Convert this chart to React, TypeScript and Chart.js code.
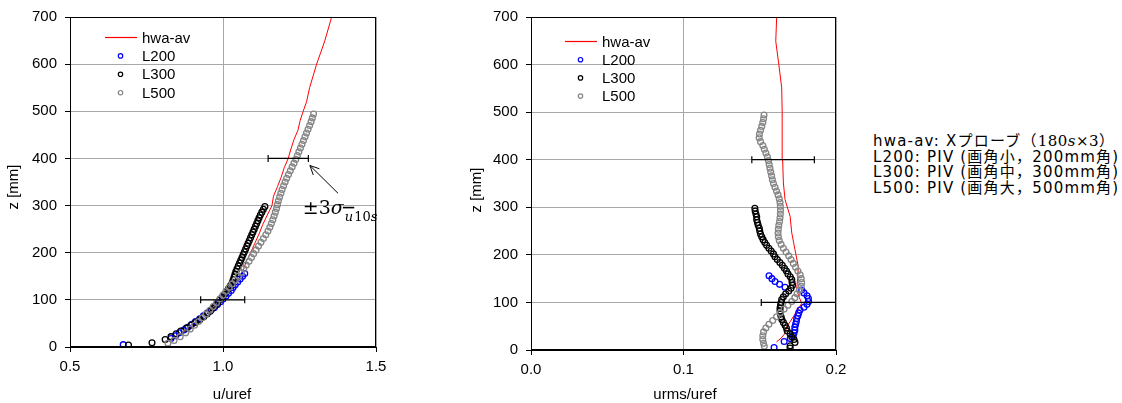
import React, { useEffect, useRef } from "react";
import { Chart, registerables } from "chart.js";
Chart.register(...registerables);

// ---------- data ----------
const SERIES = ["hwa-av", "L200", "L300", "L500"];
const zTicks = [0, 100, 200, 300, 400, 500, 600, 700];
const uTicks = [0.5, 1.0, 1.5];
const rmsTicks = [0.0, 0.1, 0.2];

// hot-wire average (left: u/uref)
const hwaUZ = [11, 20, 30, 40, 50, 60, 70, 80, 90, 100, 120, 140, 160, 180, 200, 220, 240, 260, 280, 300, 320, 340, 360, 380, 400, 420, 440, 460, 480, 500, 520, 550, 600, 650, 700];
const hwaU = [0.814, 0.84, 0.865, 0.89, 0.91, 0.93, 0.948, 0.965, 0.982, 0.998, 1.025, 1.048, 1.065, 1.075, 1.09, 1.104, 1.118, 1.13, 1.145, 1.16, 1.165, 1.178, 1.19, 1.2, 1.213, 1.222, 1.232, 1.245, 1.252, 1.262, 1.273, 1.283, 1.306, 1.333, 1.355];
// hot-wire average (right: urms/uref)
const hwaRmsZ = [17, 25, 35, 49, 60, 70, 85, 98, 110, 126, 150, 175, 211, 246, 281, 316, 351, 400, 456, 500, 551, 600, 649, 700];
const hwaRms = [0.161, 0.164, 0.1666, 0.1677, 0.17, 0.172, 0.175, 0.1775, 0.176, 0.1742, 0.1748, 0.1753, 0.1731, 0.171, 0.1699, 0.1666, 0.1655, 0.165, 0.1648, 0.1646, 0.1644, 0.1625, 0.1605, 0.1611];

const l200Z = [5, 18, 24, 30, 36, 42, 48, 54, 60, 66, 72, 78, 84, 90, 96, 102, 108, 114, 120, 126, 132, 138, 144, 150, 156];
const l200U = [0.674, 0.83, 0.845, 0.857, 0.872, 0.885, 0.898, 0.91, 0.924, 0.936, 0.948, 0.96, 0.972, 0.982, 0.992, 1.0, 1.01, 1.018, 1.027, 1.033, 1.04, 1.048, 1.056, 1.064, 1.071];
const l200Rms = [0.1594, 0.166, 0.17, 0.172, 0.1725, 0.173, 0.173, 0.1735, 0.174, 0.1742, 0.175, 0.1755, 0.1764, 0.179, 0.181, 0.182, 0.1819, 0.181, 0.179, 0.1775, 0.1666, 0.163, 0.16, 0.158, 0.1561];

const l300Z = [4, 9, 16, 22, 28, 34, 40, 46, 52, 58, 64, 70, 76, 82, 88, 94, 100, 106, 112, 118, 124, 130, 136, 142, 148, 154, 160, 166, 172, 178, 184, 190, 196, 202, 208, 214, 220, 226, 232, 238, 244, 250, 256, 262, 268, 274, 280, 286, 292, 298];
const l300U = [0.691, 0.768, 0.811, 0.83, 0.847, 0.862, 0.88, 0.895, 0.91, 0.924, 0.937, 0.948, 0.958, 0.967, 0.975, 0.983, 0.99, 0.998, 1.005, 1.011, 1.018, 1.024, 1.03, 1.033, 1.036, 1.039, 1.042, 1.046, 1.05, 1.054, 1.058, 1.062, 1.066, 1.07, 1.074, 1.078, 1.082, 1.086, 1.09, 1.094, 1.098, 1.102, 1.106, 1.11, 1.114, 1.118, 1.122, 1.127, 1.132, 1.137];
const l300Rms = [0.1699, 0.1699, 0.1731, 0.1725, 0.171, 0.1699, 0.168, 0.1675, 0.1666, 0.1655, 0.1645, 0.164, 0.1635, 0.1633, 0.1633, 0.1636, 0.164, 0.1644, 0.1655, 0.167, 0.169, 0.1705, 0.1715, 0.1712, 0.171, 0.17, 0.1685, 0.1675, 0.1662, 0.1648, 0.1632, 0.1615, 0.16, 0.159, 0.1575, 0.156, 0.1545, 0.1533, 0.1522, 0.1513, 0.1505, 0.15, 0.1497, 0.149, 0.1485, 0.148, 0.148, 0.1475, 0.147, 0.1468];

const l500Z = [8, 14, 22, 30, 38, 46, 54, 62, 70, 78, 86, 94, 102, 110, 118, 126, 134, 142, 150, 158, 166, 174, 182, 190, 198, 206, 214, 222, 230, 238, 246, 254, 262, 270, 278, 286, 294, 302, 310, 318, 326, 334, 342, 350, 358, 366, 374, 382, 390, 398, 406, 414, 422, 430, 438, 446, 454, 462, 470, 478, 486, 494];
const l500U = [0.82, 0.84, 0.86, 0.878, 0.893, 0.907, 0.92, 0.933, 0.945, 0.957, 0.968, 0.979, 0.99, 1.0, 1.01, 1.02, 1.03, 1.04, 1.05, 1.06, 1.068, 1.076, 1.085, 1.093, 1.1, 1.108, 1.116, 1.124, 1.132, 1.14, 1.147, 1.153, 1.158, 1.163, 1.167, 1.171, 1.175, 1.178, 1.181, 1.185, 1.189, 1.193, 1.198, 1.203, 1.208, 1.214, 1.22, 1.226, 1.232, 1.238, 1.243, 1.248, 1.253, 1.258, 1.263, 1.268, 1.273, 1.278, 1.283, 1.288, 1.292, 1.296];
const l500Rms = [0.153, 0.1525, 0.152, 0.152, 0.1525, 0.154, 0.156, 0.1585, 0.161, 0.1635, 0.166, 0.1685, 0.171, 0.173, 0.1745, 0.176, 0.1772, 0.1775, 0.1772, 0.1765, 0.175, 0.1735, 0.172, 0.1705, 0.169, 0.1672, 0.1655, 0.164, 0.1628, 0.1622, 0.162, 0.1622, 0.1625, 0.163, 0.1633, 0.1635, 0.1636, 0.1635, 0.1633, 0.1628, 0.162, 0.161, 0.16, 0.159, 0.1583, 0.1578, 0.1572, 0.1567, 0.1562, 0.1557, 0.155, 0.154, 0.153, 0.152, 0.1505, 0.1496, 0.1498, 0.1505, 0.1513, 0.152, 0.1525, 0.1528];

// ±3σ error bars
const errZ = [100, 400];
const uErrLo = [0.927, 1.1475];
const uErrHi = [1.071, 1.279];
const rmsErrLo = [0.151, 0.1448];
const rmsErrHi = [0.205, 0.1858];

// annotation arrow (data coords, left chart)
const arrowTip = { u: 1.284, z: 385 };
const arrowTail = { u: 1.376, z: 326 };
const sigmaLabelPos = { u: 1.261, z: 283 };

const noteLines = [
  "L200: PIV (画角小，200mm角)",
  "L300: PIV (画角中，300mm角)",
  "L500: PIV (画角大，500mm角)",
];

// ---------- styles ----------
const RED = "#ff0000";
const BLUE = "#0000ff";
const BLACK = "#000000";
const GRAY = "#858585";
const GRID = "#a8a8a8";
const FONT = '"Liberation Sans", Arial, sans-serif';
const SERIES_COLORS = [RED, BLUE, BLACK, GRAY];

const pairs = (xs: number[], zs: number[]) => xs.map((x, i) => ({ x, y: zs[i] }));

function pointSet(label: string, xs: number[], zs: number[], color: string, order: number) {
  return {
    label,
    data: pairs(xs, zs),
    showLine: false,
    pointRadius: 2.9,
    pointBorderWidth: 1.3,
    pointBorderColor: color,
    pointBackgroundColor: "rgba(0,0,0,0)",
    borderColor: color,
    backgroundColor: "rgba(0,0,0,0)",
    order,
  };
}

function errSets(lo: number[], hi: number[]) {
  return errZ.map((z, i) => ({
    label: "err" + i,
    data: [{ x: lo[i], y: z }, { x: hi[i], y: z }],
    showLine: true,
    borderColor: BLACK,
    borderWidth: 1.2,
    pointStyle: "line",
    pointRotation: 90,
    pointRadius: 3.5,
    pointBorderWidth: 1.2,
    pointBorderColor: BLACK,
    order: 0,
  }));
}

function makeDecor(o: any) {
  return {
    id: "decor" + o.id,
    afterDraw(chart: any) {
      const ctx = chart.ctx;
      const a = chart.chartArea;
      ctx.save();
      // frame
      ctx.strokeStyle = BLACK;
      ctx.lineWidth = 1;
      ctx.strokeRect(Math.round(a.left) + 0.5, Math.round(a.top) + 0.5, Math.round(a.right - a.left) - 1, Math.round(a.bottom - a.top) - 1);

      // legend
      ctx.font = `15px ${FONT}`;
      ctx.textBaseline = "middle";
      ctx.textAlign = "left";
      SERIES.forEach((name, i) => {
        const y = o.legY + i * o.legDy;
        const c = SERIES_COLORS[i];
        ctx.strokeStyle = c;
        ctx.lineWidth = 1.2;
        ctx.beginPath();
        if (i === 0) {
          ctx.moveTo(o.legX, y);
          ctx.lineTo(o.legX + 32, y);
        } else {
          ctx.arc(o.legX + 15.5, y, 2.2, 0, Math.PI * 2);
        }
        ctx.stroke();
        ctx.fillStyle = "#000";
        ctx.fillText(name, o.legX + 37, y + 1);
      });

      // axis titles
      ctx.fillStyle = "#000";
      ctx.font = `15px ${FONT}`;
      ctx.textAlign = "center";
      ctx.textBaseline = "alphabetic";
      ctx.fillText(o.xTitle, o.xTitleX, 399);
      ctx.save();
      ctx.translate(o.yTitleX, o.yTitleY);
      ctx.rotate(-Math.PI / 2);
      ctx.textBaseline = "middle";
      ctx.fillText("z [mm]", 0, 0);
      ctx.restore();

      if (o.annot) {
        const xs = chart.scales.x;
        const ys = chart.scales.y;
        const tx = xs.getPixelForValue(arrowTip.u);
        const ty = ys.getPixelForValue(arrowTip.z);
        const sx = xs.getPixelForValue(arrowTail.u);
        const sy = ys.getPixelForValue(arrowTail.z);
        ctx.strokeStyle = "#000";
        ctx.lineWidth = 1;
        ctx.beginPath();
        ctx.moveTo(sx, sy);
        ctx.lineTo(tx, ty);
        const ang = Math.atan2(ty - sy, tx - sx);
        for (const d of [-0.45, 0.45]) {
          ctx.moveTo(tx, ty);
          ctx.lineTo(tx - 10 * Math.cos(ang + d), ty - 10 * Math.sin(ang + d));
        }
        ctx.stroke();

        let px = xs.getPixelForValue(sigmaLabelPos.u);
        const py = ys.getPixelForValue(sigmaLabelPos.z);
        ctx.textAlign = "left";
        ctx.textBaseline = "alphabetic";
        ctx.font = '19px "DejaVu Serif", serif';
        ctx.fillText("±3", px, py);
        px += ctx.measureText("±3").width;
        ctx.font = 'italic 19px "DejaVu Serif", serif';
        ctx.fillText("σ", px, py);
        px += ctx.measureText("σ").width + 1;
        const sb = py + 7;
        ctx.font = 'italic 13px "DejaVu Serif", serif';
        ctx.fillText("u", px, sb);
        const uw = ctx.measureText("u").width;
        ctx.lineWidth = 1.6;
        ctx.beginPath();
        ctx.moveTo(px - 2, sb - 13);
        ctx.lineTo(px + uw + 1, sb - 13);
        ctx.stroke();
        px += uw + 1;
        ctx.font = '13px "DejaVu Serif", serif';
        ctx.fillText("10", px, sb);
        px += ctx.measureText("10").width;
        ctx.font = 'italic 13px "DejaVu Serif", serif';
        ctx.fillText("s", px, sb);
      }
      ctx.restore();
    },
  };
}

function scaleOpts(min: number, max: number, ticks: number[], decimals: number | null, fit: (s: any) => void, pad: number) {
  return {
    type: "linear",
    min,
    max,
    afterBuildTicks: (s: any) => {
      s.ticks = ticks.map((v) => ({ value: v }));
    },
    afterFit: fit,
    ticks: {
      color: "#000",
      font: { family: FONT, size: 15 },
      padding: pad,
      maxRotation: 0,
      autoSkip: false,
      callback: (v: any) => (decimals === null ? String(v) : Number(v).toFixed(decimals)),
    },
    grid: { color: GRID, lineWidth: 1, tickColor: "#000", tickLength: 5 },
    border: { color: "#000", width: 1 },
  };
}

function makeChart(canvas: HTMLCanvasElement, cfg: any) {
  return new Chart(canvas, {
    type: "scatter",
    data: { datasets: cfg.datasets },
    options: {
      animation: false,
      responsive: false,
      maintainAspectRatio: false,
      layout: { padding: cfg.padding },
      plugins: { legend: { display: false }, tooltip: { enabled: false } },
      scales: {
        x: scaleOpts(cfg.xmin, cfg.xmax, cfg.xticks, 1, (s: any) => { s.height = cfg.xh; }, 6),
        y: scaleOpts(0, 700, zTicks, null, (s: any) => { s.width = 70; }, 8),
      },
    } as any,
    plugins: [makeDecor(cfg.decor)],
  } as any);
}

export default function App() {
  const leftRef = useRef<HTMLCanvasElement>(null);
  const rightRef = useRef<HTMLCanvasElement>(null);

  useEffect(() => {
    const left = makeChart(leftRef.current!, {
      datasets: [
        { label: "hwa-av", data: pairs(hwaU, hwaUZ), showLine: true, borderColor: RED, borderWidth: 1, pointRadius: 0, order: 4 },
        pointSet("L200", l200U, l200Z, BLUE, 3),
        pointSet("L300", l300U, l300Z, BLACK, 2),
        pointSet("L500", l500U, l500Z, GRAY, 1),
        ...errSets(uErrLo, uErrHi),
      ],
      padding: { left: 0, right: 24, top: 16, bottom: 0 },
      xmin: 0.5, xmax: 1.5, xticks: uTicks, xh: 56,
      decor: { id: "L", legX: 105, legY: 37.5, legDy: 18.4, xTitle: "u/uref", xTitleX: 232, yTitleX: 14, yTitleY: 187, annot: true },
    });
    const right = makeChart(rightRef.current!, {
      datasets: [
        { label: "hwa-av", data: pairs(hwaRms, hwaRmsZ), showLine: true, borderColor: RED, borderWidth: 1, pointRadius: 0, order: 4 },
        pointSet("L200", l200Rms, l200Z, BLUE, 3),
        pointSet("L300", l300Rms, l300Z, BLACK, 2),
        pointSet("L500", l500Rms, l500Z, GRAY, 1),
        ...errSets(rmsErrLo, rmsErrHi),
      ],
      padding: { left: 0, right: 25, top: 17, bottom: 0 },
      xmin: 0, xmax: 0.2, xticks: rmsTicks, xh: 53,
      decor: { id: "R", legX: 104, legY: 41.5, legDy: 18.2, xTitle: "urms/uref", xTitleX: 224, yTitleX: 16, yTitleY: 190, annot: false },
    });
    return () => {
      left.destroy();
      right.destroy();
    };
  }, []);

  const serif = '"DejaVu Serif", "Liberation Serif", serif';
  return (
    <div style={{ position: "absolute", left: 0, top: 0, width: 1122, height: 403, background: "#fff", overflow: "hidden" }}>
      <canvas ref={leftRef} width={400} height={403} style={{ position: "absolute", left: 0, top: 0, width: 400, height: 403 }} />
      <canvas ref={rightRef} width={400} height={403} style={{ position: "absolute", left: 461, top: 0, width: 400, height: 403 }} />
      <div
        style={{
          position: "absolute",
          left: 873,
          top: 134,
          fontFamily: '"DejaVu Sans", "Noto Sans CJK JP", sans-serif',
          fontSize: 15,
          lineHeight: "15.7px",
          letterSpacing: "1.2px",
          color: "#000",
          whiteSpace: "nowrap",
        }}
      >
        <div>
          hwa-av: Xプローブ（<span style={{ fontFamily: serif, letterSpacing: "0.5px" }}>180<i>s</i>×3</span>）
        </div>
        {noteLines.map((t) => (
          <div key={t}>{t}</div>
        ))}
      </div>
    </div>
  );
}
